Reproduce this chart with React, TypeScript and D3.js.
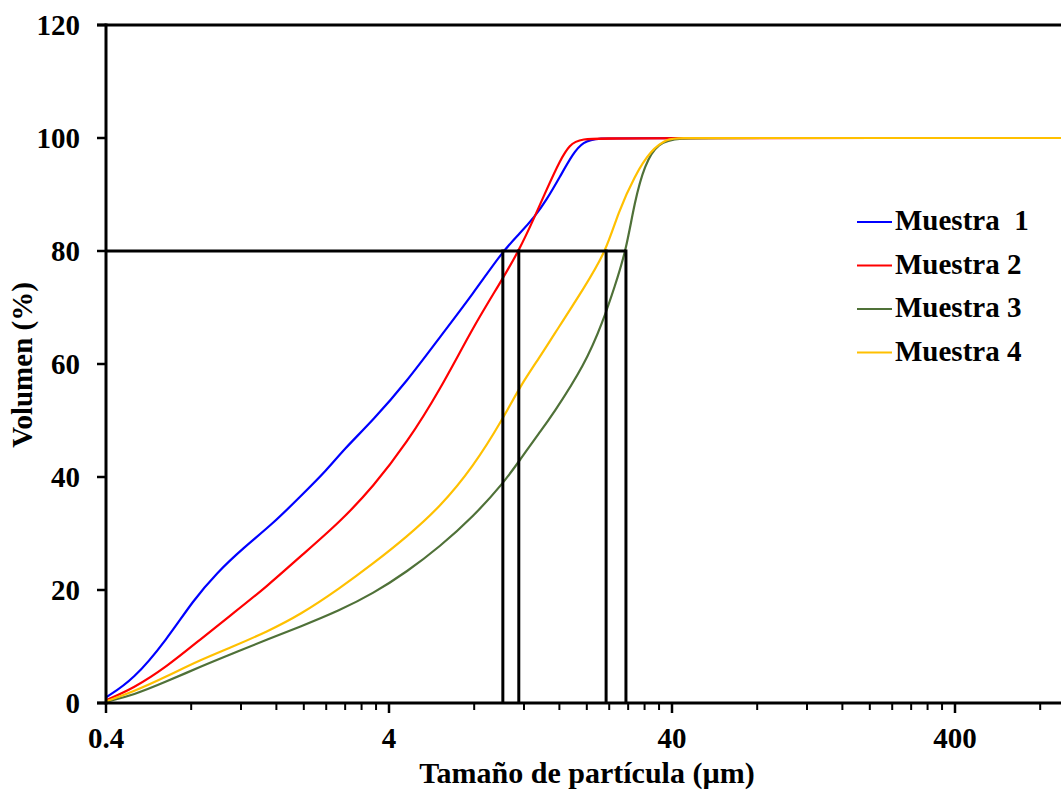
import React from "react";
import * as d3 from "d3";

// Particle size distribution: cumulative volume (%) vs particle size (µm)
const sizes1 = [0.4, 0.5, 0.655, 0.814, 0.984, 1.22, 1.56, 1.94, 2.41, 2.76, 3.52, 4.62, 6.06, 7.94, 10.1, 11.6, 13.1, 14.4, 16.1, 17.9, 19.4, 21.7, 30, 2000];
const vol1 = [1.0, 4.1, 11.2, 18.2, 23.0, 27.4, 31.8, 36.5, 41.2, 44.8, 50.1, 56.9, 64.8, 72.5, 80.0, 83.1, 86.1, 89.0, 93.2, 97.3, 99.3, 100, 100, 100];

const sizes2 = [0.4, 0.5, 0.655, 0.859, 1.127, 1.479, 1.94, 2.68, 3.52, 4.62, 6.06, 7.94, 9.87, 11.5, 13.1, 14.4, 16.1, 17.4, 18.9, 25, 2000];
const vol2 = [0.5, 2.6, 6.4, 11.2, 15.9, 20.6, 25.9, 32.0, 38.3, 46.0, 55.4, 66.6, 74.3, 80.0, 86.1, 90.8, 96.1, 98.8, 99.9, 100, 100];

const sizes3 = [0.4, 0.5, 0.655, 0.859, 1.127, 1.479, 1.94, 2.68, 3.52, 4.62, 6.06, 7.94, 10.14, 11.6, 13.67, 15.0, 19.7, 22.8, 25.1, 27.5, 29.5, 32.0, 35.7, 42, 60, 2000];
const vol3 = [0.2, 1.4, 3.8, 6.4, 8.8, 11.2, 13.5, 16.4, 19.4, 23.2, 27.7, 33.0, 38.9, 43.0, 48.0, 50.7, 59.9, 67.5, 73.7, 80.0, 88.7, 95.3, 99.2, 100, 100, 100];

const sizes4 = [0.4, 0.5, 0.655, 0.859, 1.127, 1.479, 1.94, 2.68, 3.52, 4.62, 6.06, 7.94, 10.14, 11.6, 13.67, 15.0, 19.7, 23.4, 25.8, 29.5, 33.7, 38.7, 42, 60, 2000];
const vol4 = [0.3, 2.0, 4.7, 7.6, 10.0, 12.6, 15.6, 20.3, 24.7, 29.4, 34.7, 41.8, 50.4, 56.0, 61.3, 64.5, 73.7, 80.0, 86.8, 93.3, 97.9, 99.9, 100, 100, 100];

const seriesNames = ["Muestra  1", "Muestra 2", "Muestra 3", "Muestra 4"];
const seriesColors = ["#0000ff", "#ff0000", "#4f7138", "#ffc000"];

// Size at which each sample reaches 80 % of cumulative volume
const d80Level = 80;
const d80Sizes = [10.1, 11.5, 23.4, 27.5];

const xMajorTicks = [0.4, 4, 40, 400, 4000];
const xTickLabels = ["0.4", "4", "40", "400"];
const yTicks = [0, 20, 40, 60, 80, 100, 120];

const W = 1061;
const H = 802;
const FONT = "'Times New Roman', 'Liberation Serif', serif";

export default function App() {
  const x = d3.scaleLog().domain([0.4, 4000]).range([106, 1238]);
  const y = d3.scaleLinear().domain([0, 120]).range([703, 25]);

  const series = [
    { s: sizes1, v: vol1 },
    { s: sizes2, v: vol2 },
    { s: sizes3, v: vol3 },
    { s: sizes4, v: vol4 },
  ];

  const line = d3
    .line<[number, number]>()
    .x((d) => x(d[0]))
    .y((d) => y(d[1]))
    .curve(d3.curveBasis);

  const minorTicks: number[] = [];
  for (const base of xMajorTicks.slice(0, -1)) {
    for (let k = 2; k <= 9; k++) minorTicks.push(base * k);
  }

  const x0 = x.range()[0];
  const x1 = x.range()[1];
  const yTop = y(120);
  const yBot = y(0);
  const yRef = y(d80Level);
  const maxD80 = d3.max(d80Sizes) as number;

  return (
    <div style={{ position: "absolute", left: 0, top: 0, width: W, height: H, overflow: "hidden", background: "#fff" }}>
      <svg width={W} height={H} style={{ display: "block" }} fontFamily={FONT} fontWeight="bold">
        {/* curves */}
        {series.map((sr, i) => (
          <path
            key={i}
            d={line(sr.s.map((s, j) => [s, sr.v[j]] as [number, number])) || ""}
            fill="none"
            stroke={seriesColors[i]}
            strokeWidth={2.2}
          />
        ))}

        {/* D80 guide lines */}
        <line x1={x0} x2={x(maxD80)} y1={yRef} y2={yRef} stroke="#000" strokeWidth={3} />
        {d80Sizes.map((d, i) => (
          <line key={i} x1={x(d)} x2={x(d)} y1={yRef - 1.5} y2={yBot} stroke="#000" strokeWidth={3} />
        ))}

        {/* frame */}
        <line x1={x0 - 9} x2={x1} y1={yTop} y2={yTop} stroke="#000" strokeWidth={3} />
        <line x1={x1} x2={x1} y1={yTop} y2={yBot} stroke="#000" strokeWidth={3} />

        {/* y axis */}
        <line x1={x0} x2={x0} y1={yTop - 1.5} y2={yBot + 1.5} stroke="#000" strokeWidth={3} />
        {yTicks.map((t) => (
          <g key={t}>
            <line x1={x0 - 9} x2={x0} y1={y(t)} y2={y(t)} stroke="#000" strokeWidth={2.5} />
            <text x={80} y={y(t)} dy="0.35em" textAnchor="end" fontSize={29}>
              {t}
            </text>
          </g>
        ))}

        {/* x axis */}
        <line x1={x0 - 9} x2={x1} y1={yBot} y2={yBot} stroke="#000" strokeWidth={3} />
        {minorTicks.map((t) => (
          <line key={t} x1={x(t)} x2={x(t)} y1={yBot} y2={yBot + 7} stroke="#000" strokeWidth={2} />
        ))}
        {xMajorTicks.map((t, i) => (
          <g key={t}>
            <line x1={x(t)} x2={x(t)} y1={yBot} y2={yBot + 10} stroke="#000" strokeWidth={2.5} />
            {xTickLabels[i] !== undefined && (
              <text x={x(t)} y={748} textAnchor="middle" fontSize={29}>
                {xTickLabels[i]}
              </text>
            )}
          </g>
        ))}

        {/* axis titles */}
        <text x={587} y={783} textAnchor="middle" fontSize={30}>
          Tamaño de partícula (µm)
        </text>
        <text transform="translate(32,365) rotate(-90)" textAnchor="middle" fontSize={29}>
          Volumen (%)
        </text>

        {/* legend */}
        {seriesNames.map((name, i) => {
          const ly = 222 + i * 43.5;
          return (
            <g key={name}>
              <line x1={857} x2={892} y1={ly} y2={ly} stroke={seriesColors[i]} strokeWidth={2.2} />
              <text x={895} y={ly + 8} fontSize={29} style={{ whiteSpace: "pre" }}>
                {name}
              </text>
            </g>
          );
        })}
      </svg>
    </div>
  );
}
